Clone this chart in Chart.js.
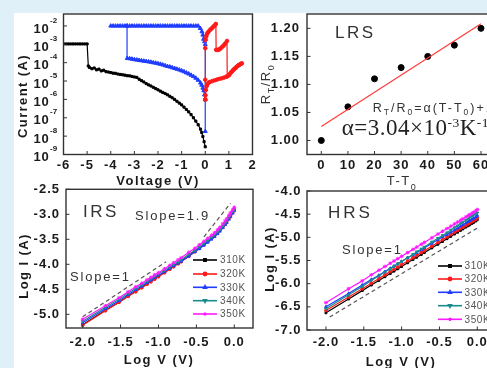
<!DOCTYPE html>
<html><head><meta charset="utf-8">
<script src="https://cdn.jsdelivr.net/npm/chart.js@4.4.1/dist/chart.umd.min.js"></script>
<style>
html,body{margin:0;padding:0;overflow:hidden;width:487px;height:368px;background:#dff0f8;}
#white{position:absolute;left:14px;top:13px;width:600px;height:400px;background:#ffffff;}
canvas{position:absolute;left:0;top:0;}
</style></head><body>
<div id="white"></div>
<canvas id="c1" width="560" height="368"></canvas>
<canvas id="c2" width="560" height="368"></canvas>
<canvas id="c3" width="560" height="368"></canvas>
<canvas id="c4" width="560" height="368"></canvas>
<script>
// ---------- Panel 1: I-V (log current) ----------
const p1XTicks = [-6,-5,-4,-3,-2,-1,0,1,2];
const p1XLabels = ['-6','-5','-4','-3','-2','-1','0','1','2'];
const p1YExp = [-2,-3,-4,-5,-6,-7,-8,-9];

const blackV = [-6.0,-5.9,-5.8,-5.7,-5.6,-5.5,-5.4,-5.3,-5.2,-5.1,-5.0,-4.95,
 -4.9,-4.8,-4.7,-4.6,-4.5,-4.4,-4.3,-4.2,-4.1,-4.0,
 -3.9,-3.8,-3.7,-3.6,-3.5,-3.4,-3.3,-3.2,-3.1,-3.0,
 -2.9,-2.8,-2.7,-2.6,-2.5,-2.4,-2.3,-2.2,-2.1,-2.0,
 -1.9,-1.8,-1.7,-1.6,-1.5,-1.4,-1.3,-1.2,-1.1,-1.0,
 -0.9,-0.8,-0.7,-0.6,-0.5,-0.4,-0.3,-0.2,-0.15,-0.1,-0.05,0.0];
const blackLogI = [-2.98,-2.98,-2.98,-2.98,-2.98,-2.98,-2.98,-2.98,-2.98,-2.98,-2.98,-4.18,
 -4.26,-4.33,-4.29,-4.39,-4.35,-4.45,-4.41,-4.49,-4.51,-4.54,
 -4.57,-4.58,-4.62,-4.64,-4.66,-4.68,-4.71,-4.72,-4.75,-4.78,
 -4.80,-4.90,-4.98,-5.05,-5.14,-5.21,-5.27,-5.34,-5.41,-5.48,
 -5.55,-5.62,-5.68,-5.75,-5.83,-5.91,-6.00,-6.10,-6.20,-6.30,
 -6.42,-6.55,-6.68,-6.83,-7.00,-7.18,-7.38,-7.62,-7.80,-8.02,-8.30,-8.58];

const blueV = [0.0,-0.03,-0.06,-0.1,-0.15,-0.2,-0.3,-0.4,-0.5,-0.6,-0.7,-0.8,-0.9,-1.0,
 -1.1,-1.2,-1.3,-1.4,-1.5,-1.6,-1.7,-1.8,-1.9,-2.0,-2.1,-2.2,-2.3,-2.4,-2.5,-2.6,-2.7,-2.8,-2.9,-3.0,-3.1,-3.2,-3.3,
 -3.31,-4.0,
 -3.9,-3.8,-3.7,-3.6,-3.5,-3.4,-3.3,-3.2,-3.1,-3.0,-2.9,-2.8,-2.7,-2.6,-2.5,-2.4,-2.3,-2.2,-2.1,-2.0,
 -1.9,-1.8,-1.7,-1.6,-1.5,-1.4,-1.3,-1.2,-1.1,-1.0,-0.9,-0.8,-0.7,-0.6,-0.5,-0.4,-0.3,
 -0.21,-0.14,-0.1,-0.07,-0.03,0.0,0.0];
const blueLogI = [-6.02,-5.75,-5.52,-5.38,-5.22,-5.10,-4.95,-4.84,-4.75,-4.68,-4.61,-4.55,-4.49,-4.44,
 -4.39,-4.35,-4.31,-4.27,-4.23,-4.20,-4.16,-4.12,-4.08,-4.05,-4.02,-4.00,-3.97,-3.95,-3.93,-3.91,-3.89,-3.87,-3.85,-3.83,-3.80,-3.78,-3.76,
 -2.0,-2.0,
 -2.0,-2.0,-2.0,-2.0,-2.0,-2.0,-2.0,-2.0,-2.0,-2.0,-2.0,-2.0,-2.0,-2.0,-2.0,-2.0,-2.0,-2.0,-2.0,-2.0,
 -2.0,-2.0,-2.0,-2.0,-2.0,-2.0,-2.0,-2.0,-2.0,-2.0,-2.0,-2.0,-2.0,-2.0,-2.0,-2.0,-2.0,
 -2.13,-2.31,-2.49,-2.72,-2.85,-3.0,-7.74];

const redV = [0.0,0.0,0.0,0.02,0.04,0.07,0.1,0.14,0.2,0.25,0.3,0.35,0.4,0.45,
 0.46,0.5,0.55,0.6,0.65,0.7,0.75,0.8,0.85,0.92,
 0.93,1.0,1.05,1.1,1.15,1.2,1.25,1.3,1.35,1.4,1.45,1.5,1.55,
 1.5,1.4,1.3,1.2,1.1,1.0,0.9,0.8,0.7,0.6,0.5,0.4,0.3,0.2,0.15,0.1,0.06,0.03,0.01,0.0];
const redLogI = [-6.0,-4.93,-3.21,-2.75,-2.58,-2.45,-2.37,-2.31,-2.22,-2.16,-2.10,-2.03,-1.97,-1.89,
 -3.30,-3.31,-3.30,-3.28,-3.22,-3.16,-3.10,-3.03,-2.95,-2.82,
 -4.75,-4.68,-4.60,-4.52,-4.45,-4.38,-4.32,-4.26,-4.20,-4.15,-4.11,-4.07,-4.04,
 -4.07,-4.15,-4.26,-4.38,-4.52,-4.68,-4.76,-4.81,-4.85,-4.88,-4.92,-4.96,-5.00,-5.05,-5.09,-5.16,-5.28,-5.48,-5.78,-6.0];

// ---------- Panel 2: R_T/R_0 vs T-T0 ----------
const p2XTicks = [0,10,20,30,40,50,60];
const p2XLabels = ['0','10','20','30','40','50','60'];
const p2YTicks = [1.00,1.05,1.10,1.15,1.20];
const p2YLabels = ['1.00','1.05','1.10','1.15','1.20'];
const dT = [0,10,20,30,40,50,60];
const rRatio = [1.00,1.06,1.11,1.13,1.15,1.17,1.20];
const fitX = [0,60];
const fitY = [1.025,1.208];

// ---------- Panels 3,4: Log I vs Log V ----------
const logTicksX = [-2.0,-1.5,-1.0,-0.5,0.0];
const logTicksXLabels = ['-2.0','-1.5','-1.0','-0.5','0.0'];
const p3YTicks = [-2.5,-3.0,-3.5,-4.0,-4.5,-5.0];
const p3YLabels = ['-2.5','-3.0','-3.5','-4.0','-4.5','-5.0'];
const p4YTicks = [-4.0,-4.5,-5.0,-5.5,-6.0,-6.5,-7.0];
const p4YLabels = ['-4.0','-4.5','-5.0','-5.5','-6.0','-6.5','-7.0'];
const temps = ['310K','320K','330K','340K','350K'];
const logV = [-2.0,-1.7,-1.52,-1.4,-1.3,-1.22,-1.15,-1.1,-1.05,-1.0,-0.92,-0.85,-0.8,-0.74,-0.7,-0.6,-0.52,-0.46,-0.4,-0.35,-0.3,-0.26,-0.22,-0.19,-0.15,-0.12,-0.1,-0.07,-0.05,-0.02,0.0];

const irs310 = [-5.21,-4.92,-4.76,-4.64,-4.54,-4.46,-4.39,-4.34,-4.29,-4.24,-4.16,-4.09,-4.04,-3.98,-3.94,-3.83,-3.74,-3.67,-3.60,-3.54,-3.47,-3.42,-3.36,-3.31,-3.24,-3.18,-3.14,-3.07,-3.02,-2.95,-2.90];
const irs320 = [-5.22,-4.93,-4.76,-4.64,-4.55,-4.47,-4.40,-4.35,-4.30,-4.25,-4.17,-4.10,-4.05,-3.99,-3.95,-3.84,-3.75,-3.68,-3.61,-3.55,-3.48,-3.43,-3.37,-3.32,-3.25,-3.19,-3.15,-3.08,-3.03,-2.96,-2.91];
const irs330 = [-5.17,-4.89,-4.73,-4.61,-4.51,-4.44,-4.37,-4.32,-4.27,-4.22,-4.15,-4.08,-4.03,-3.98,-3.94,-3.84,-3.75,-3.69,-3.62,-3.56,-3.50,-3.45,-3.39,-3.34,-3.27,-3.21,-3.17,-3.10,-3.05,-2.98,-2.93];
const irs340 = [-5.14,-4.86,-4.70,-4.58,-4.48,-4.41,-4.34,-4.29,-4.24,-4.19,-4.12,-4.05,-4.00,-3.95,-3.91,-3.80,-3.72,-3.65,-3.58,-3.52,-3.46,-3.41,-3.35,-3.30,-3.23,-3.17,-3.13,-3.06,-3.01,-2.94,-2.90];
const irs350 = [-5.10,-4.83,-4.67,-4.55,-4.45,-4.38,-4.31,-4.26,-4.21,-4.17,-4.09,-4.02,-3.97,-3.91,-3.87,-3.76,-3.68,-3.61,-3.54,-3.48,-3.42,-3.37,-3.31,-3.26,-3.19,-3.13,-3.09,-3.02,-2.97,-2.91,-2.86];
const irsSlope1X = [-2.0,-0.9];
const irsSlope1Y = [-5.05,-3.95];
const irsSlope19X = [-0.4,-0.05];
const irsSlope19Y = [-3.45,-2.78];

const hrs310 = [-6.63,-6.33,-6.15,-6.03,-5.93,-5.85,-5.78,-5.73,-5.68,-5.63,-5.55,-5.48,-5.43,-5.37,-5.33,-5.23,-5.15,-5.09,-5.03,-4.98,-4.93,-4.89,-4.85,-4.82,-4.78,-4.75,-4.73,-4.70,-4.68,-4.65,-4.62];
const hrs320 = [-6.58,-6.29,-6.11,-5.99,-5.89,-5.81,-5.74,-5.69,-5.64,-5.59,-5.51,-5.44,-5.39,-5.33,-5.29,-5.19,-5.11,-5.05,-4.99,-4.94,-4.89,-4.85,-4.81,-4.78,-4.74,-4.71,-4.69,-4.66,-4.64,-4.61,-4.58];
const hrs330 = [-6.50,-6.21,-6.03,-5.91,-5.82,-5.74,-5.67,-5.62,-5.57,-5.52,-5.44,-5.38,-5.33,-5.27,-5.23,-5.13,-5.05,-4.99,-4.94,-4.89,-4.84,-4.80,-4.76,-4.73,-4.69,-4.66,-4.64,-4.61,-4.59,-4.56,-4.53];
const hrs340 = [-6.54,-6.24,-6.06,-5.93,-5.83,-5.75,-5.68,-5.63,-5.57,-5.52,-5.44,-5.37,-5.31,-5.25,-5.21,-5.10,-5.02,-4.96,-4.90,-4.84,-4.79,-4.75,-4.70,-4.67,-4.63,-4.60,-4.57,-4.54,-4.52,-4.49,-4.47];
const hrs350 = [-6.41,-6.11,-5.94,-5.81,-5.71,-5.63,-5.56,-5.51,-5.46,-5.41,-5.33,-5.26,-5.21,-5.15,-5.11,-5.01,-4.93,-4.87,-4.81,-4.76,-4.71,-4.67,-4.63,-4.60,-4.56,-4.53,-4.51,-4.48,-4.46,-4.43,-4.40];
const hrsSlope1X = [-1.95,0.0];
const hrsSlope1Y = [-6.72,-4.80];

// ---------- styling ----------
const W = 560, H = 368;
const TICKF = "bold 13px 'Liberation Sans', Arial, sans-serif";
const TITLEF = "bold 13px 'Liberation Sans', Arial, sans-serif";
const NORMF = "'Liberation Sans', Arial, sans-serif";
const tColors = ['#000000','#ff1a1a','#1f3cff','#1a8c8c','#ff19ff'];
const tStyles = ['rect','circle','triangle','triangle','star'];
const tRot = [0,0,0,180,0];

function pts(xs, ys, f){ return xs.map((x,i)=>({x:x, y: f ? f(ys[i]) : ys[i]})); }
const pow10 = v => Math.pow(10, v);

function txt(ctx, s, x, y, font, o){
  o = o || {};
  ctx.save(); ctx.font = font; ctx.fillStyle = o.color || '#1a1a1a';
  try { ctx.letterSpacing = (o.ls || 0) + 'px'; } catch(e){}
  ctx.textAlign = o.align || 'left'; ctx.textBaseline = o.base || 'middle';
  ctx.translate(x, y); if (o.rot) ctx.rotate(o.rot);
  ctx.fillText(s, 0, 0); ctx.restore();
}
function rich(ctx, segs, x, y, o){
  o = o || {};
  ctx.save(); ctx.translate(x, y); if (o.rot) ctx.rotate(o.rot);
  try { ctx.letterSpacing = (o.ls || 0) + 'px'; } catch(e){}
  ctx.fillStyle = o.color || '#1a1a1a'; ctx.textBaseline = 'alphabetic'; ctx.textAlign = 'left';
  let w = 0; segs.forEach(s => { ctx.font = s.f; w += ctx.measureText(s.t).width; });
  let cx = o.align === 'center' ? -w/2 : 0;
  segs.forEach(s => { ctx.font = s.f; ctx.fillText(s.t, cx, s.dy || 0); cx += ctx.measureText(s.t).width; });
  ctx.restore();
}
function frame(c, xv, yv){
  const ctx = c.ctx, a = c.chartArea, xs = c.scales.x, ys = c.scales.y;
  ctx.save(); ctx.strokeStyle = '#333'; ctx.lineWidth = 1.4;
  ctx.strokeRect(a.left, a.top, a.right - a.left, a.bottom - a.top);
  ctx.beginPath(); ctx.lineWidth = 1;
  xv.forEach(v => { const p = xs.getPixelForValue(v); ctx.moveTo(p, a.bottom); ctx.lineTo(p, a.bottom - 3.5); });
  yv.forEach(v => { const p = ys.getPixelForValue(v); ctx.moveTo(a.left, p); ctx.lineTo(a.left + 3.5, p); });
  ctx.stroke(); ctx.restore();
}
function legend(ctx, x1, x2, tx, rows){
  temps.forEach((t,i) => {
    const y = rows[i];
    ctx.save(); ctx.strokeStyle = tColors[i]; ctx.lineWidth = 1.6;
    ctx.beginPath(); ctx.moveTo(x1, y); ctx.lineTo(x2, y); ctx.stroke();
    ctx.fillStyle = tColors[i];
    if (Chart.helpers && Chart.helpers.drawPoint) {
      Chart.helpers.drawPoint(ctx, {pointStyle: tStyles[i], radius: 1.6, rotation: tRot[i], borderWidth: 1}, (x1+x2)/2, y);
    }
    ctx.restore();
    txt(ctx, t, tx, y + 0.5, "10px " + NORMF, {color: '#555', ls: 0.6});
  });
}
function lineDS(data, color, style, radius, rot){
  return {data: data, showLine: true, borderColor: color, backgroundColor: color, borderWidth: 1.2,
    pointStyle: style, pointRadius: radius, pointBorderWidth: 1, pointRotation: rot || 0, pointBackgroundColor: color, pointBorderColor: color};
}
function dashDS(data){
  return {data: data, showLine: true, borderColor: '#555', borderWidth: 1.2, borderDash: [4,3], pointRadius: 0};
}
function makeChart(id, area, xs, ys, datasets, draw){
  return new Chart(document.getElementById(id), {
    type: 'scatter',
    data: {datasets: datasets},
    options: {
      responsive: false, animation: false, events: [],
      layout: {padding: {left: area[0], top: area[1], right: W - area[2], bottom: H - area[3]}},
      scales: {x: Object.assign({display: false, bounds: 'data'}, xs), y: Object.assign({display: false, bounds: 'data'}, ys)},
      plugins: {legend: {display: false}, tooltip: {enabled: false}}
    },
    plugins: [{id: 'deco' + id, afterDraw: c => draw(c)}]
  });
}

// Panel 1
makeChart('c1', [63.5, 14, 252.5, 154.5],
  {type: 'linear', min: -6, max: 2},
  {type: 'logarithmic', min: 1e-9, max: Math.pow(10, -1.35)},
  [
    lineDS(pts(redV, redLogI, pow10), '#ff1a1a', 'circle', 1.8),
    lineDS(pts(blueV, blueLogI, pow10), '#1f3cff', 'triangle', 2.3),
    lineDS(pts(blackV, blackLogI, pow10), '#000000', 'rect', 1.5)
  ],
  c => {
    const ctx = c.ctx, a = c.chartArea, xs = c.scales.x, ys = c.scales.y;
    frame(c, p1XTicks, p1YExp.map(pow10));
    p1XTicks.forEach((v,i) => txt(ctx, p1XLabels[i], xs.getPixelForValue(v), a.bottom + 11, TICKF, {align: 'center', ls: 1}));
    p1YExp.forEach(e => {
      const py = ys.getPixelForValue(pow10(e));
      txt(ctx, '10', a.left - 14, py + 3, TICKF, {align: 'right', ls: 0.8});
      txt(ctx, String(e), a.left - 13.5, py - 5.5, "bold 8px " + NORMF, {align: 'left'});
    });
    txt(ctx, 'Voltage (V)', (a.left + a.right)/2, a.bottom + 27, TITLEF, {align: 'center', ls: 1.5});
    txt(ctx, 'Current (A)', 23.5, 96, TITLEF, {align: 'center', ls: 1.4, rot: -Math.PI/2});
  });

// Panel 2
makeChart('c2', [307, 14, 507.6, 154.5],
  {type: 'linear', min: -5.37, max: 70},
  {type: 'linear', min: 0.975, max: 1.2256},
  [
    {data: pts(fitX, fitY), showLine: true, borderColor: '#ff3b3b', borderWidth: 1.2, pointRadius: 0},
    {data: pts(dT, rRatio), showLine: false, pointStyle: 'circle', pointRadius: 3, backgroundColor: '#000', borderColor: '#000'}
  ],
  c => {
    const ctx = c.ctx, a = c.chartArea, xs = c.scales.x, ys = c.scales.y;
    frame(c, p2XTicks, p2YTicks);
    p2XTicks.forEach((v,i) => txt(ctx, p2XLabels[i], xs.getPixelForValue(v), a.bottom + 11, TICKF, {align: 'center', ls: 1}));
    p2YTicks.forEach((v,i) => txt(ctx, p2YLabels[i], a.left - 7, ys.getPixelForValue(v), TICKF, {align: 'right', ls: 1}));
    const f13 = "13px " + NORMF, f9 = "9px " + NORMF;
    rich(ctx, [{t: 'T-T', f: f13}, {t: '0', f: f9, dy: 5}], 402, 185, {align: 'center', ls: 1.5, color: '#333'});
    rich(ctx, [{t: 'R', f: f13}, {t: 'T', f: f9, dy: 4}, {t: '/R', f: f13}, {t: '0', f: f9, dy: 4}], 270, 84,
      {align: 'center', ls: 1.5, rot: -Math.PI/2, color: '#333'});
    txt(ctx, 'LRS', 335, 33, "17px " + NORMF, {ls: 2.5, color: '#333'});
    const e13 = "12.5px " + NORMF, e8 = "8.5px " + NORMF;
    rich(ctx, [{t: 'R', f: e13}, {t: 'T', f: e8, dy: 3}, {t: '/R', f: e13}, {t: '0', f: e8, dy: 3},
      {t: '=α(T-T', f: e13}, {t: '0', f: e8, dy: 3}, {t: ')+1', f: e13}], 372.7, 111.5, {ls: 2, color: '#333'});
    const s22 = "23px 'Liberation Serif', 'Times New Roman', serif", s13 = "13.5px 'Liberation Serif', 'Times New Roman', serif";
    rich(ctx, [{t: 'α=3.04×10', f: s22}, {t: '-3', f: s13, dy: -8.5}, {t: 'K', f: s22}, {t: '-1', f: s13, dy: -8.5}], 341.7, 135, {ls: 0.5, color: '#222'});
  });

// Panel 3
makeChart('c3', [66, 189.3, 253, 328],
  {type: 'linear', min: -2.22, max: 0.247},
  {type: 'linear', min: -5.274, max: -2.5},
  [
    lineDS(pts(logV, irs350), tColors[4], tStyles[4], 1.9),
    lineDS(pts(logV, irs340), tColors[3], tStyles[3], 1.6, 180),
    lineDS(pts(logV, irs330), tColors[2], tStyles[2], 1.6),
    lineDS(pts(logV, irs320), tColors[1], tStyles[1], 1.4),
    lineDS(pts(logV, irs310), tColors[0], tStyles[0], 1.3),
    dashDS(pts(irsSlope1X, irsSlope1Y)),
    dashDS(pts(irsSlope19X, irsSlope19Y))
  ],
  c => {
    const ctx = c.ctx, a = c.chartArea, xs = c.scales.x, ys = c.scales.y;
    frame(c, logTicksX, p3YTicks);
    logTicksX.forEach((v,i) => txt(ctx, logTicksXLabels[i], xs.getPixelForValue(v), a.bottom + 14, TICKF, {align: 'center', ls: 1}));
    p3YTicks.forEach((v,i) => txt(ctx, p3YLabels[i], a.left - 6, ys.getPixelForValue(v), TICKF, {align: 'right', ls: 1}));
    txt(ctx, 'Log V (V)', 159, 360, TITLEF, {align: 'center', ls: 1.5});
    txt(ctx, 'Log I (A)', 24, 266, TITLEF, {align: 'center', ls: 1.4, rot: -Math.PI/2});
    txt(ctx, 'IRS', 83, 212, "17px " + NORMF, {ls: 2.5, color: '#333'});
    txt(ctx, 'Slope=1.9', 135, 216, "13px " + NORMF, {ls: 1.8, color: '#333'});
    txt(ctx, 'Slope=1', 70, 277, "13px " + NORMF, {ls: 1.8, color: '#333'});
    legend(ctx, 193, 217, 220, [260, 274, 287.3, 300.7, 314]);
  });

// Panel 4
makeChart('c4', [307, 191, 503.8, 330],
  {type: 'linear', min: -2.25, max: 0.35},
  {type: 'linear', min: -7.0, max: -4.0},
  [
    lineDS(pts(logV, hrs350), tColors[4], tStyles[4], 1.9),
    lineDS(pts(logV, hrs340), tColors[3], tStyles[3], 1.6, 180),
    lineDS(pts(logV, hrs330), tColors[2], tStyles[2], 1.6),
    lineDS(pts(logV, hrs320), tColors[1], tStyles[1], 1.4),
    lineDS(pts(logV, hrs310), tColors[0], tStyles[0], 1.3),
    dashDS(pts(hrsSlope1X, hrsSlope1Y))
  ],
  c => {
    const ctx = c.ctx, a = c.chartArea, xs = c.scales.x, ys = c.scales.y;
    frame(c, logTicksX, p4YTicks);
    logTicksX.forEach((v,i) => txt(ctx, logTicksXLabels[i], xs.getPixelForValue(v), a.bottom + 12.5, TICKF, {align: 'center', ls: 1}));
    p4YTicks.forEach((v,i) => txt(ctx, p4YLabels[i], a.left - 5.5, ys.getPixelForValue(v), TICKF, {align: 'right', ls: 1}));
    txt(ctx, 'Log V (V)', 401, 362, TITLEF, {align: 'center', ls: 1.5});
    txt(ctx, 'Log I (A)', 270, 259, TITLEF, {align: 'center', ls: 1.4, rot: -Math.PI/2});
    txt(ctx, 'HRS', 328, 213, "17px " + NORMF, {ls: 3, color: '#333'});
    txt(ctx, 'Slope=1', 342, 250, "13px " + NORMF, {ls: 1.8, color: '#333'});
    legend(ctx, 438, 462, 464.5, [266, 279, 292.3, 305.7, 319.3]);
  });
</script>
</body></html>
